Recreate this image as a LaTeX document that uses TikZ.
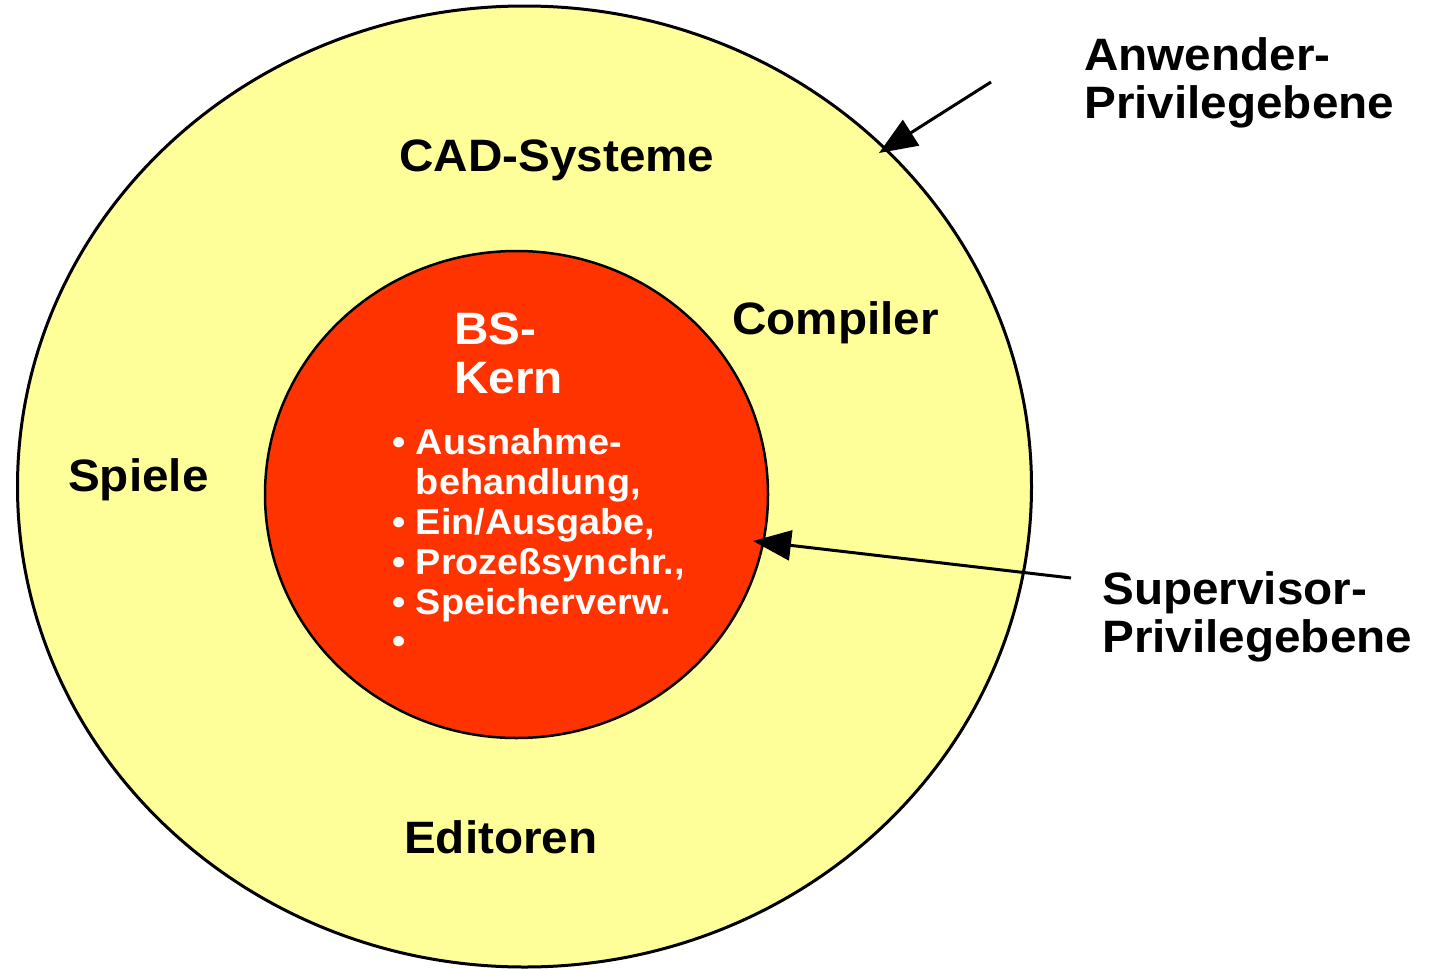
\documentclass[tikz,border=0pt]{standalone}
\usepackage{fontspec}
\setmainfont{Liberation Sans}[FakeStretch=1.05]
\usetikzlibrary{arrows.meta}
\definecolor{ringyellow}{HTML}{FFFF99}
\definecolor{kernred}{HTML}{FF3300}
\tikzset{
  big/.style={anchor=base west, inner sep=0pt, font=\fontsize{45.4}{48}\selectfont\bfseries},
  small/.style={anchor=base west, inner sep=0pt, font=\fontsize{36}{40}\selectfont\bfseries, text=white},
  pointer/.style={line width=3pt, -{Triangle[length=38pt,width=30pt]}},
}
\begin{document}
\begin{tikzpicture}[x=1pt,y=-1pt]
\useasboundingbox (0,0) rectangle (1433,969);
\begin{scope}
\clip (0,0) rectangle (1433,969);
\draw[line width=3pt, fill=ringyellow] (524.5,486.5) ellipse [x radius=507, y radius=480.5];
\end{scope}
\draw[line width=2.5pt, fill=kernred] (516.5,494.5) ellipse [x radius=251.5, y radius=243.5];
\coordinate (outerpt) at (879,153);
\coordinate (outertail) at (991,82);
\coordinate (innerpt) at (753,541);
\coordinate (innertail) at (1071,578);

\node[big] (cad) at (399,171) {CAD-Systeme};
\node[big] (comp) at (732,334) {Compiler};
\node[big] (spiele) at (68,491) {Spiele};
\node[big] (edit) at (404,853) {Editoren};
\node[big] (anw1) at (1084,70) {Anwender-};
\node[big] (anw2) at (1084,118) {Privilegebene};
\node[big] (sup1) at (1102,604) {Supervisor-};
\node[big] (sup2) at (1102,652) {Privilegebene};
\node[big, text=white] (bs1) at (454,344) {BS-};
\node[big, text=white] (bs2) at (454,393) {Kern};

\node[small] (l1) at (392,454) {•\ Ausnahme-};
\node[small] (l2) at (392,494) {\phantom{•\ }behandlung,};
\node[small] (l3) at (392,534) {•\ Ein/Ausgabe,};
\node[small] (l4) at (392,574) {•\ Prozeßsynchr.,};
\node[small] (l5) at (392,614) {•\ Speicherverw.};
\node[small] (l6) at (392,653) {•};

\draw[pointer] (outertail) -- (outerpt);
\draw[pointer] (innertail) -- (innerpt);
\end{tikzpicture}
\end{document}
